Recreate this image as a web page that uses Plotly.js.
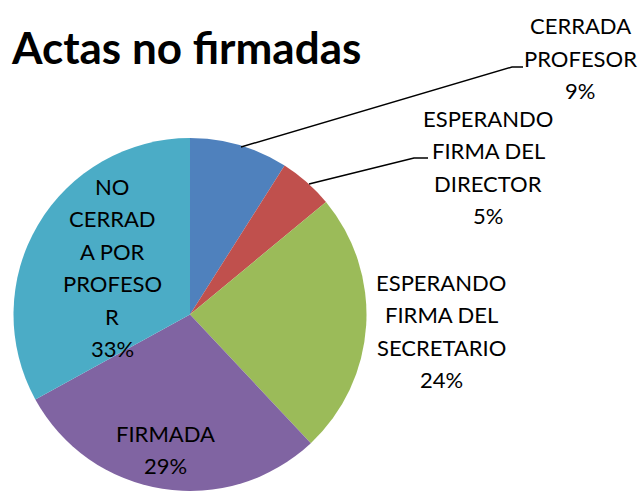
<!DOCTYPE html>
<html>
<head>
<meta charset="utf-8">
<script src="https://cdn.plot.ly/plotly-3.0.1.min.js"></script>
<style>
html,body{margin:0;padding:0;background:#fff;overflow:hidden;}
#chart{width:644px;height:491px;}
</style>
</head>
<body>
<div id="chart"></div>
<script>
// ---- data ----
const categories = ['CERRADA PROFESOR','ESPERANDO FIRMA DEL DIRECTOR','ESPERANDO FIRMA DEL SECRETARIO','FIRMADA','NO CERRADO POR PROFESOR'];
const values = [9, 5, 24, 29, 33];
const labelLines = [
  ['CERRADA','PROFESOR'],
  ['ESPERANDO','FIRMA DEL','DIRECTOR'],
  ['ESPERANDO','FIRMA DEL','SECRETARIO'],
  ['FIRMADA'],
  ['NO','CERRAD','A POR','PROFESO','R']
];
const colors = ['#4F81BD','#C0504D','#9BBB59','#8064A2','#4BACC6'];
const chartTitle = 'Actas no firmadas';

// ---- layout helpers (pixel -> paper) ----
const W = 644, H = 491;
const px = x => x / W;
const py = y => 1 - y / H;

const total = values.reduce((a,b)=>a+b,0);
const pct = values.map(v => Math.round(v/total*100) + '%');

// label block anchors: center x, first-line center y
const labelPos = [[580,26],[488,118],[441,282],[165,433],[112,186]];
const lineGap = 32.5;
const labelFont = {family:'Lato, "Open Sans", sans-serif', size:22, color:'#000'};

const annotations = [];
labelLines.forEach((lines, i) => {
  const all = lines.concat([pct[i]]);
  all.forEach((t, j) => {
    annotations.push({
      xref:'paper', yref:'paper',
      x: px(labelPos[i][0]), y: py(labelPos[i][1] + j*lineGap),
      xanchor:'center', yanchor:'middle',
      text: t, showarrow:false, font: labelFont
    });
  });
});

const shapes = [
  {type:'path', xref:'paper', yref:'paper',
   path:`M ${px(241)} ${py(147)} L ${px(512)} ${py(67)} L ${px(523)} ${py(67)}`,
   line:{color:'#000', width:1.5}},
  {type:'path', xref:'paper', yref:'paper',
   path:`M ${px(309)} ${py(184)} L ${px(414)} ${py(158)} L ${px(428)} ${py(158)}`,
   line:{color:'#000', width:1.5}}
];

const trace = {
  type:'pie',
  labels: categories,
  values: values,
  sort:false,
  direction:'clockwise',
  rotation:0,
  textinfo:'none',
  marker:{colors: colors, line:{width:0}},
  domain:{x:[px(12), px(368)], y:[0, py(138)]},
  hoverinfo:'label+percent'
};

const layout = {
  width: W, height: H,
  margin:{l:0,r:0,t:0,b:0,pad:0},
  paper_bgcolor:'#fff',
  showlegend:false,
  title:{text:'<b>'+chartTitle+'</b>', x:px(12), xref:'paper', xanchor:'left',
         y:py(49), yref:'paper', yanchor:'middle',
         font:{family:'Lato, "Open Sans", sans-serif', size:44, color:'#000'}},
  annotations: annotations,
  shapes: shapes
};

Plotly.newPlot('chart', [trace], layout, {displayModeBar:false, staticPlot:true});
</script>
</body>
</html>
